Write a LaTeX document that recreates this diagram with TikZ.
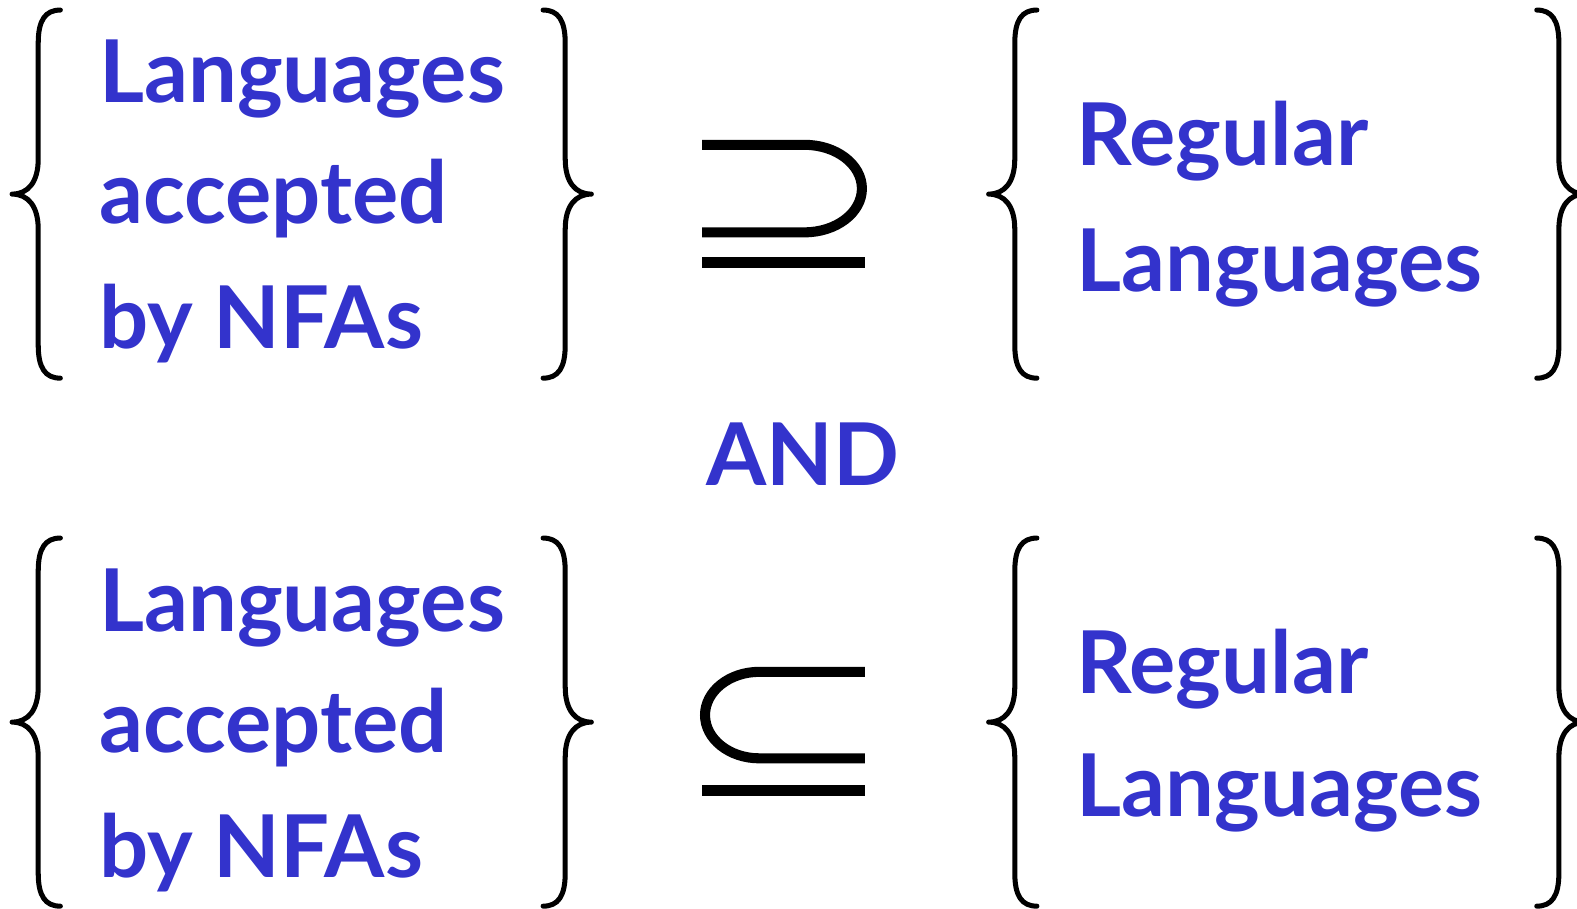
\documentclass[tikz,border=0pt]{standalone}
\usepackage{fontspec}
\setmainfont{Lato}
\definecolor{txtblue}{RGB}{51,51,204}
\tikzset{
  txt/.style={text=txtblue, font=\fontsize{24.5}{30}\selectfont\bfseries, inner sep=0pt, anchor=base west},
  bracestroke/.style={draw=black, line width=0.05cm, line cap=round, line join=round},
  symstroke/.style={draw=black, line width=0.1cm},
  curly/.pic={
    \path[bracestroke] (48,-183) .. controls (33,-183) and (26,-173) .. (26,-150) -- (26,-35)
      .. controls (26,-12) and (16,0) .. (0,0)
      .. controls (16,0) and (26,12) .. (26,35) -- (26,150)
      .. controls (26,173) and (33,183) .. (48,183);
  }
}
\begin{document}
\begin{tikzpicture}[x=0.01cm,y=-0.01cm]
\useasboundingbox (0,0) rectangle (1568,903);
\clip (0,0) rectangle (1568,903);
% top row braces
\pic (b1) at (12,193) {curly};
\pic[xscale=-1] (b2) at (588,193) {curly};
\pic (b3) at (983,193) {curly};
\pic[xscale=-1] (b4) at (1576,193) {curly};
% bottom row braces
\pic (b5) at (12,718) {curly};
\pic[xscale=-1] (b6) at (588,718) {curly};
\pic (b7) at (983,718) {curly};
\pic[xscale=-1] (b8) at (1576,718) {curly};
% top texts
\node[txt] (l1) at (98,102) {Languages};
\node[txt] (l2) at (98,222) {accepted};
\node[txt] (l3) at (98,347) {by NFAs};
\node[txt] (r1) at (1070,165) {Regular};
\node[txt] (r2) at (1070,290) {Languages};
% AND
\node[txt, anchor=base] (and) at (798,483) {AND};
% bottom texts
\node[txt] (l4) at (98,628) {Languages};
\node[txt] (l5) at (98,748) {accepted};
\node[txt] (l6) at (98,872) {by NFAs};
\node[txt] (r3) at (1070,690) {Regular};
\node[txt] (r4) at (1070,812) {Languages};
% superset-or-equal
\path[symstroke] (698,144) -- (800,144) arc[start angle=-90, end angle=90, x radius=57, y radius=43.5] -- (698,231);
\path[symstroke] (698,261) -- (860,261);
% subset-or-equal
\path[symstroke] (860,668) -- (755,668) arc[start angle=-90, end angle=-270, x radius=54, y radius=43] -- (860,754);
\path[symstroke] (698,786) -- (860,786);
\end{tikzpicture}
\end{document}
